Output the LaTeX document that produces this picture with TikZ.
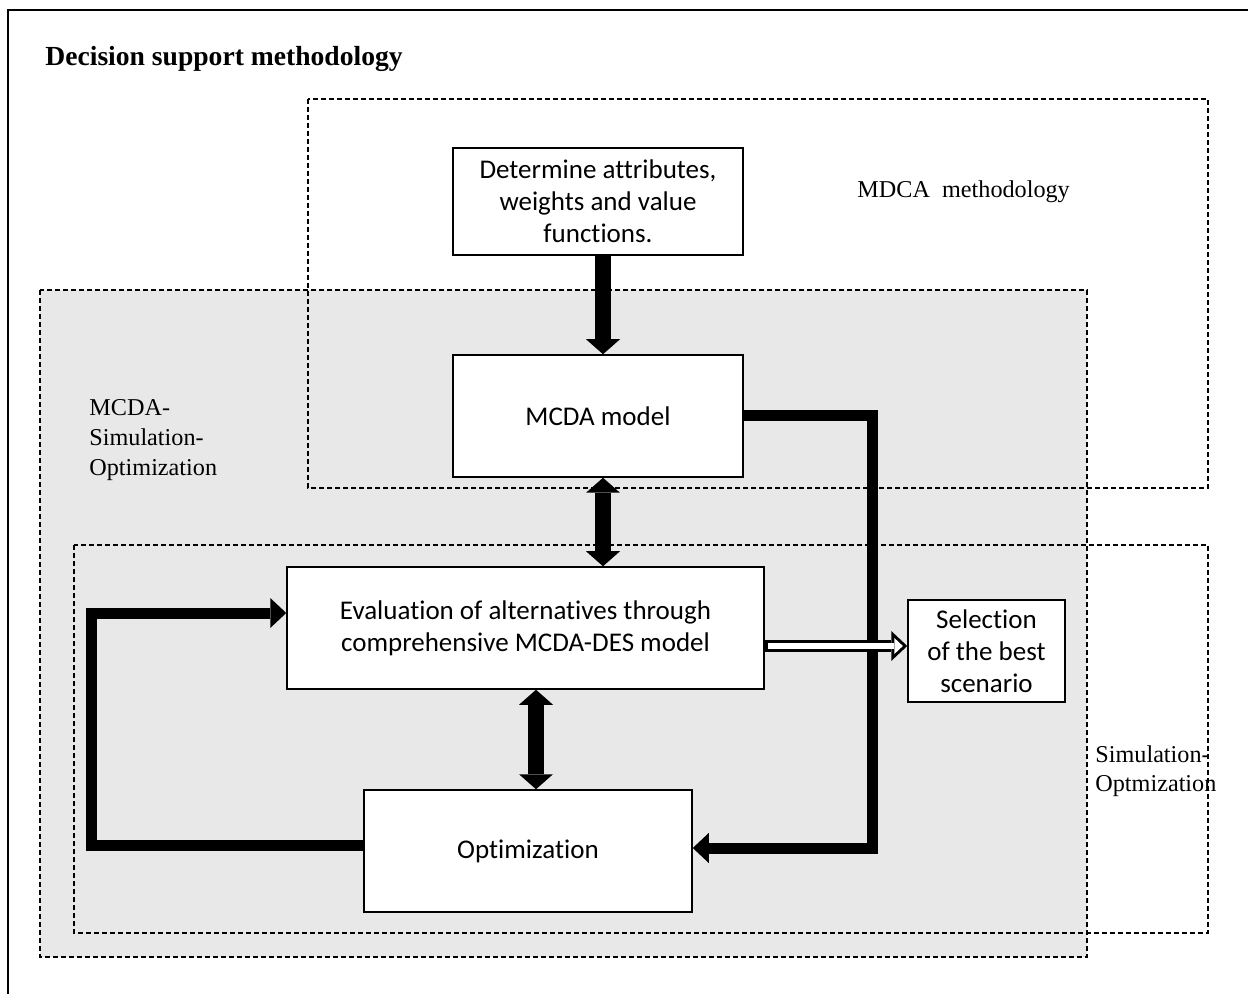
\documentclass[tikz,border=0pt]{standalone}
\usepackage{fontspec}
\setmainfont{Liberation Serif}
\newfontfamily\boxfont[Ligatures=NoCommon]{Carlito}
\usetikzlibrary{arrows.meta}

\begin{document}
\begin{tikzpicture}[x=0.5pt, y=-0.5pt,
  box/.style={draw, line width=0.75pt, fill=white, align=center, inner sep=0pt,
    font=\boxfont\fontsize{13.5}{16}\selectfont},
  area/.style={draw, dash pattern=on 2.5pt off 1.5pt, line width=0.6pt},
  lbl/.style={anchor=west, align=left, inner sep=0pt, font=\fontsize{12.1}{14.8}\selectfont},
  fat/.style={line width=8pt, -{Triangle[width=17pt,length=7.5pt,line width=0pt]}},
  fatboth/.style={line width=8pt, {Triangle[width=17pt,length=7.5pt,line width=0pt]}-{Triangle[width=17pt,length=7.5pt,line width=0pt]}},
  loopline/.style={line width=5.5pt, -{Triangle[width=15pt,length=8pt,line width=0pt]}}]
\useasboundingbox (0,0) rectangle (1248,994);

% frame and regions
\draw[line width=0.6pt] (8,994) -- (8,10) -- (1248,10);
\draw[area, fill=gray!18] (40,290) rectangle (1087,957);
\draw[area] (308,99) rectangle (1208,488);
\draw[area] (74,545) rectangle (1208,933);

\node[anchor=base west, inner sep=0pt, font=\bfseries\fontsize{13.8}{16}\selectfont] (title) at (45,66) {Decision support methodology};
\node[lbl] (mdcalbl) at (857,192) {MDCA~~methodology};
\node[lbl] (mcsolbl) at (89,440) {MCDA-\\Simulation-\\Optimization};
\node[lbl] (simoptlbl) at (1095,771) {Simulation-\\Optmization};

% steps
\node[box, minimum width=145pt, minimum height=53.5pt] (det) at (598,201.5) {Determine attributes,\\weights and value\\functions.};
\node[box, minimum width=145pt, minimum height=61pt] (mcda) at (598,416) {MCDA model};
\node[box, minimum width=238.5pt, minimum height=61pt] (eval) at (525.5,628) {Evaluation of alternatives through\\comprehensive MCDA-DES model};
\node[box, minimum width=78.5pt, minimum height=51pt] (sel) at (986.5,651) {Selection\\of the best\\scenario};
\node[box, minimum width=164pt, minimum height=61pt] (opt) at (528,851) {Optimization};

% arrows
\draw[fat] ([xshift=2.5pt]det.south) -- ([xshift=2.5pt]mcda.north);
\draw[fatboth] ([xshift=2.5pt]mcda.south) -- ([xshift=2.5pt]mcda.south |- eval.north);
\draw[fatboth] ([xshift=4pt]opt.north |- eval.south) -- ([xshift=4pt]opt.north);
\draw[loopline] (mcda.east) -- ++(129,0) |- ([yshift=1.5pt]opt.east);
\draw[loopline] ([yshift=3pt]opt.west) -- ++(-272,0) |- ([yshift=7.5pt]eval.west);
\draw[line width=6pt, -{Triangle[width=15pt,length=8pt,line width=0pt]}] ([yshift=2.5pt]eval.east |- sel.west) -- ([yshift=2.5pt]sel.west);
\draw[white, line width=3pt, shorten <=1.5pt, shorten >=2.2pt, -{Triangle[width=8.1pt,length=4.3pt,line width=0pt]}] ([yshift=2.5pt]eval.east |- sel.west) -- ([yshift=2.5pt]sel.west);
\end{tikzpicture}
\end{document}
